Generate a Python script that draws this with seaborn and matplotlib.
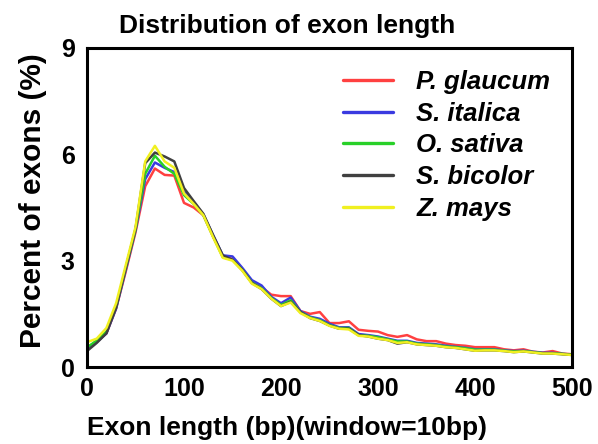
import numpy as np
import pandas as pd
import matplotlib
matplotlib.use("Agg")
import matplotlib.pyplot as plt
import seaborn as sns

x_bp = list(range(0, 501, 10))

p_glaucum = [0.55, 0.72, 0.95, 1.65, 2.7, 3.8, 5.1, 5.6, 5.42, 5.4, 4.63, 4.5, 4.28, 3.68, 3.12, 3.05, 2.74, 2.38, 2.25, 2.04, 2.0, 2.0,
             1.58, 1.5, 1.55, 1.24, 1.24, 1.29, 1.05, 1.02, 1.0, 0.9, 0.85, 0.9, 0.78, 0.73, 0.73, 0.66, 0.62, 0.6, 0.56, 0.56,
             0.56, 0.5, 0.47, 0.5, 0.43, 0.41, 0.45, 0.38, 0.36]
s_italica = [0.5, 0.7, 0.95, 1.65, 2.75, 3.85, 5.3, 5.77, 5.62, 5.5, 4.95, 4.65, 4.3, 3.72, 3.15, 3.12, 2.8, 2.45, 2.3, 1.98, 1.8, 1.96,
             1.58, 1.42, 1.36, 1.22, 1.12, 1.12, 0.93, 0.9, 0.86, 0.8, 0.74, 0.74, 0.68, 0.66, 0.64, 0.6, 0.57, 0.54, 0.5, 0.5,
             0.5, 0.47, 0.45, 0.46, 0.43, 0.4, 0.4, 0.37, 0.35]
o_sativa = [0.55, 0.75, 1.0, 1.7, 2.8, 3.88, 5.45, 5.96, 5.65, 5.45, 4.85, 4.6, 4.28, 3.68, 3.1, 3.02, 2.74, 2.38, 2.22, 1.95, 1.75, 1.88,
            1.55, 1.4, 1.32, 1.18, 1.1, 1.1, 0.9, 0.88, 0.84, 0.78, 0.72, 0.72, 0.66, 0.64, 0.62, 0.58, 0.56, 0.53, 0.49, 0.49,
            0.49, 0.46, 0.44, 0.45, 0.42, 0.39, 0.39, 0.37, 0.35]
s_bicolor = [0.45, 0.68, 0.95, 1.68, 2.8, 3.9, 5.75, 6.05, 5.94, 5.8, 5.05, 4.68, 4.32, 3.72, 3.15, 3.02, 2.74, 2.37, 2.2, 1.93, 1.72, 1.84,
             1.55, 1.38, 1.3, 1.17, 1.08, 1.08, 0.9, 0.86, 0.8, 0.76, 0.66, 0.7, 0.64, 0.62, 0.6, 0.56, 0.54, 0.5, 0.46, 0.47,
             0.47, 0.45, 0.42, 0.44, 0.41, 0.38, 0.38, 0.36, 0.34]
z_mays = [0.7, 0.8, 1.1, 1.8, 2.88, 3.95, 5.8, 6.24, 5.8, 5.62, 4.9, 4.6, 4.28, 3.66, 3.08, 3.0, 2.72, 2.35, 2.2, 1.93, 1.72, 1.82,
          1.52, 1.38, 1.3, 1.16, 1.08, 1.06, 0.88, 0.86, 0.8, 0.76, 0.68, 0.7, 0.64, 0.62, 0.6, 0.56, 0.54, 0.5, 0.46, 0.47,
          0.47, 0.45, 0.42, 0.44, 0.41, 0.38, 0.38, 0.36, 0.34]

species = ["P. glaucum", "S. italica", "O. sativa", "S. bicolor", "Z. mays"]
series = [p_glaucum, s_italica, o_sativa, s_bicolor, z_mays]
colors = ["#ff4040", "#3a3ae0", "#28d028", "#404040", "#f0f020"]

df = pd.concat([pd.DataFrame({"x": x_bp, "y": s, "species": name}) for name, s in zip(species, series)],
               ignore_index=True)

sns.set_style("white")
plt.rcParams["font.family"] = ["Liberation Sans", "DejaVu Sans"]
plt.rcParams["text.color"] = "black"
plt.rcParams["axes.labelcolor"] = "black"
plt.rcParams["xtick.color"] = "black"
plt.rcParams["ytick.color"] = "black"

fig = plt.figure(figsize=(5.98, 4.44), dpi=100)
ax = fig.add_axes([0.1455, 0.1734, 0.811, 0.7185])

sns.lineplot(data=df, x="x", y="y", hue="species", palette=dict(zip(species, colors)),
             linewidth=1.8, ax=ax, legend=True)

ax.set_xlim(0, 500)
ax.set_ylim(0, 9)
ax.set_xticks([0, 100, 200, 300, 400, 500])
ax.set_yticks([0, 3, 6, 9])
ax.tick_params(direction="in", length=6, width=2, labelsize=18)
ax.tick_params(axis="x", pad=7)
ax.tick_params(axis="y", pad=9)
for lab in ax.get_xticklabels() + ax.get_yticklabels():
    lab.set_fontweight("bold")
for sp in ax.spines.values():
    sp.set_linewidth(2.2)
    sp.set_color("black")

ax.set_xlabel("Exon length (bp)(window=10bp)", fontsize=19, fontweight="bold")
ax.xaxis.set_label_coords(0.412, -0.155)
ax.set_ylabel("Percent of exons (%)", fontsize=21.5, fontweight="bold")
ax.yaxis.set_label_coords(-0.082, 0.52)
fig.text(0.48, 0.925, "Distribution of exon length", fontsize=19, fontweight="bold",
         ha="center", va="baseline")

leg = ax.legend(loc="upper right", frameon=False,
                prop={"size": 18.5, "weight": "bold", "style": "italic"},
                handlelength=1.95, handletextpad=0.9, labelspacing=0.3, borderaxespad=0.45)
for h in leg.get_lines():
    h.set_linewidth(2.4)

fig.savefig("out.png", dpi=100)
